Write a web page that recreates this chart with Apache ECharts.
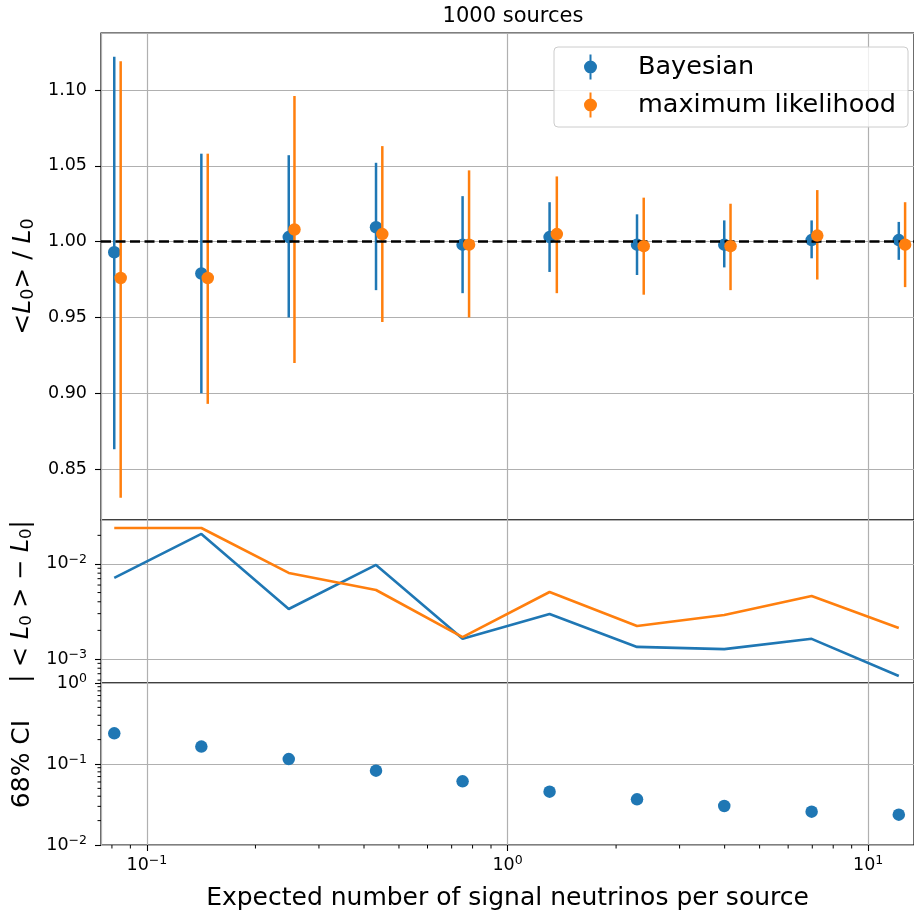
<!DOCTYPE html>
<html>
<head>
<meta charset="utf-8">
<script src="https://cdn.jsdelivr.net/npm/echarts@6/dist/echarts.min.js"></script>
<style>
  html, body { margin: 0; padding: 0; background: #fff; }
  #chart { width: 914px; height: 913px; }
</style>
</head>
<body>
<div id="chart"></div>
<script>
// expected number of signal neutrinos per source (ML points are drawn slightly to the right)
var xBayes = [0.0812, 0.1416, 0.2474, 0.4319, 0.7506, 1.308, 2.286, 3.990, 6.970, 12.16];
var xML = [0.0846, 0.1475, 0.2566, 0.4496, 0.7823, 1.370, 2.386, 4.153, 7.226, 12.66];

// <L0>/L0 with error bars
var bayesMean = [0.993, 0.979, 1.003, 1.0095, 0.998, 1.003, 0.998, 0.998, 1.001, 1.001];
var bayesLow = [0.863, 0.900, 0.950, 0.968, 0.966, 0.980, 0.978, 0.983, 0.989, 0.988];
var bayesHigh = [1.122, 1.058, 1.057, 1.052, 1.030, 1.026, 1.018, 1.014, 1.014, 1.013];
var mlMean = [0.976, 0.976, 1.008, 1.005, 0.998, 1.005, 0.997, 0.997, 1.004, 0.998];
var mlLow = [0.831, 0.893, 0.920, 0.947, 0.950, 0.966, 0.965, 0.968, 0.975, 0.970];
var mlHigh = [1.119, 1.058, 1.096, 1.063, 1.047, 1.043, 1.029, 1.025, 1.034, 1.026];

// |<L0> - L0|
var bayesBias = [0.00713, 0.0207, 0.00336, 0.00977, 0.00163, 0.00298, 0.00134, 0.00127, 0.00163, 0.000662];
var mlBias = [0.0239, 0.0239, 0.00804, 0.00532, 0.0017, 0.00507, 0.00222, 0.0029, 0.0046, 0.00212];

// 68% CI width
var ciWidth = [0.239, 0.164, 0.115, 0.0827, 0.0611, 0.0455, 0.0366, 0.0303, 0.0258, 0.0237];

// minor tick positions
var xMinor = [0.08, 0.09, 0.2, 0.3, 0.4, 0.5, 0.6, 0.7, 0.8, 0.9, 2, 3, 4, 5, 6, 7, 8, 9];
var biasMinor = [0.0006, 0.0007, 0.0008, 0.0009, 0.002, 0.003, 0.004, 0.005, 0.006, 0.007, 0.008, 0.009, 0.02];
var ciMinor = [0.02, 0.03, 0.04, 0.05, 0.06, 0.07, 0.08, 0.09, 0.2, 0.3, 0.4, 0.5, 0.6, 0.7, 0.8, 0.9];

var xMin = 0.07461, xMax = 13.40;
var blue = '#1f77b4', orange = '#ff7f0e';
var font = 'DejaVu Sans';

function zip(a, b, c) {
  return a.map(function (v, i) { return c ? [v, b[i], c[i]] : [v, b[i]]; });
}

// 10^n label with a raised exponent
function powLabel(v) {
  var e = Math.round(Math.log10(v));
  return '10{e|' + (e < 0 ? '\u2212' + (-e) : e) + '}';
}
var powRich = { e: { fontSize: 12.5, fontFamily: font, color: '#000', padding: [0, 0, 9, 0] } };

function errRender(params, api) {
  var a = api.coord([api.value(0), api.value(1)]);
  var b = api.coord([api.value(0), api.value(2)]);
  return {
    type: 'line',
    shape: { x1: a[0], y1: a[1], x2: b[0], y2: b[1] },
    style: { stroke: api.visual('color'), lineWidth: 2.5 }
  };
}
function xMinorRender(params, api) {
  var cs = params.coordSys;
  var p = api.coord([api.value(0), 0.1]);
  var y = cs.y + cs.height;
  return { type: 'line', shape: { x1: p[0], y1: y, x2: p[0], y2: y + 3.5 }, style: { stroke: '#000', lineWidth: 1 } };
}
function yMinorRender(params, api) {
  var cs = params.coordSys;
  var p = api.coord([1, api.value(1)]);
  return { type: 'line', shape: { x1: cs.x, y1: p[1], x2: cs.x - 3.5, y2: p[1] }, style: { stroke: '#000', lineWidth: 1 } };
}

var gridBase = { left: 101, width: 815, show: true, borderColor: '#000', borderWidth: 1.2 };
var splitLine = { show: true, lineStyle: { color: '#b0b0b0', width: 1.2 } };
var tickStyle = { show: true, length: 6, lineStyle: { color: '#000', width: 1.1 } };
var labelStyle = { color: '#000', fontSize: 17.5, fontFamily: font };

function xAxisFor(idx, showLabels) {
  var ax = {
    type: 'log', logBase: 10, gridIndex: idx, min: xMin, max: xMax,
    axisLine: { show: false },
    axisTick: showLabels ? tickStyle : { show: false },
    axisLabel: showLabels ? Object.assign({ margin: 9, showMinLabel: false, showMaxLabel: false, formatter: powLabel, rich: powRich }, labelStyle) : { show: false },
    splitLine: splitLine
  };
  if (showLabels) {
    ax.name = 'Expected number of signal neutrinos per source';
    ax.nameLocation = 'middle';
    ax.nameGap = 41;
    ax.nameTextStyle = { fontSize: 25, fontFamily: font, color: '#000', verticalAlign: 'top' };
  }
  return ax;
}

var legendIcon = 'path://M5.5,0H7.5V25H5.5Z M0,12.5A6.5,6.5 0 1,1 13,12.5A6.5,6.5 0 1,1 0,12.5Z';

var chart = echarts.init(document.getElementById('chart'));
chart.setOption({
  animation: false,
  backgroundColor: '#fff',
  title: {
    text: '1000 sources', left: 508, top: 1, textAlign: 'center',
    textStyle: { fontSize: 21, fontWeight: 'normal', color: '#000', fontFamily: font }
  },
  legend: {
    left: 554, top: 47, orient: 'vertical',
    itemWidth: 13, itemHeight: 25, itemGap: 12,
    padding: [7, 12, 9, 30],
    borderColor: '#cccccc', borderWidth: 1, borderRadius: 4,
    backgroundColor: 'rgba(255,255,255,0.8)',
    data: [{ name: 'Bayesian', icon: legendIcon }, { name: 'maximum likelihood', icon: legendIcon }],
    formatter: function (n) { return '{t|' + n + '}'; },
    textStyle: { rich: { t: { fontSize: 25.5, lineHeight: 30, fontFamily: font, color: '#000', padding: [0, 0, 0, 36] } } }
  },
  grid: [
    Object.assign({ top: 33, height: 487 }, gridBase),
    Object.assign({ top: 520, height: 163 }, gridBase),
    Object.assign({ top: 683, height: 162 }, gridBase)
  ],
  xAxis: [xAxisFor(0, false), xAxisFor(1, false), xAxisFor(2, true)],
  yAxis: [
    {
      type: 'value', gridIndex: 0, min: 0.8164, max: 1.1376, splitNumber: 6,
      axisLine: { show: false }, axisTick: tickStyle, splitLine: splitLine,
      axisLabel: Object.assign({ margin: 14, showMinLabel: false, showMaxLabel: false, formatter: function (v) { return v.toFixed(2); } }, labelStyle),
      name: '<{i|L}{s|0}> / {i|L}{s|0}', nameLocation: 'middle', nameRotate: 90, nameGap: 60,
      nameTextStyle: {
        fontSize: 25, fontFamily: font, color: '#000',
        rich: { i: { fontSize: 25, fontStyle: 'italic', fontFamily: font }, s: { fontSize: 17.5, fontFamily: font, padding: [10, 0, 0, 0] } }
      }
    },
    {
      type: 'log', logBase: 10, gridIndex: 1, min: 0.000559, max: 0.0290,
      axisLine: { show: false }, axisTick: tickStyle, splitLine: splitLine,
      axisLabel: Object.assign({ margin: 14, showMinLabel: false, showMaxLabel: false, formatter: powLabel, rich: powRich }, labelStyle),
      name: '| < {i|L}{s|0} > \u2212 {i|L}{s|0}|', nameLocation: 'middle', nameRotate: 90, nameGap: 66,
      nameTextStyle: {
        fontSize: 24, fontFamily: font, color: '#000',
        rich: { i: { fontSize: 24, fontStyle: 'italic', fontFamily: font }, s: { fontSize: 16.5, fontFamily: font, padding: [10, 0, 0, 0] } }
      }
    },
    {
      type: 'log', logBase: 10, gridIndex: 2, min: 0.01, max: 1,
      axisLine: { show: false }, axisTick: tickStyle, splitLine: splitLine,
      axisLabel: Object.assign({ margin: 14, formatter: powLabel, rich: powRich }, labelStyle),
      name: '68% CI', nameLocation: 'middle', nameRotate: 90, nameGap: 65,
      nameTextStyle: { fontSize: 25, fontFamily: font, color: '#000' }
    }
  ],
  series: [
    {
      type: 'custom', name: 'Bayesian bars', xAxisIndex: 0, yAxisIndex: 0, z: 2,
      itemStyle: { color: blue }, renderItem: errRender,
      encode: { x: 0, y: [1, 2] },
      data: zip(xBayes, bayesLow, bayesHigh),
      markLine: {
        silent: true, symbol: 'none', label: { show: false },
        lineStyle: { color: '#000', type: [10, 4.5], width: 2.6 },
        data: [{ yAxis: 1 }]
      }
    },
    {
      type: 'scatter', name: 'Bayesian', xAxisIndex: 0, yAxisIndex: 0, z: 3,
      symbolSize: 12.5, itemStyle: { color: blue, opacity: 1 },
      data: zip(xBayes, bayesMean)
    },
    {
      type: 'custom', name: 'ML bars', xAxisIndex: 0, yAxisIndex: 0, z: 4,
      itemStyle: { color: orange }, renderItem: errRender,
      encode: { x: 0, y: [1, 2] },
      data: zip(xML, mlLow, mlHigh)
    },
    {
      type: 'scatter', name: 'maximum likelihood', xAxisIndex: 0, yAxisIndex: 0, z: 5,
      symbolSize: 12.5, itemStyle: { color: orange, opacity: 1 },
      data: zip(xML, mlMean)
    },
    {
      type: 'line', name: 'Bayesian bias', xAxisIndex: 1, yAxisIndex: 1,
      showSymbol: false, lineStyle: { color: blue, width: 2.6 }, itemStyle: { color: blue },
      data: zip(xBayes, bayesBias)
    },
    {
      type: 'line', name: 'ML bias', xAxisIndex: 1, yAxisIndex: 1,
      showSymbol: false, lineStyle: { color: orange, width: 2.6 }, itemStyle: { color: orange },
      data: zip(xBayes, mlBias)
    },
    {
      type: 'scatter', name: 'CI', xAxisIndex: 2, yAxisIndex: 2,
      symbolSize: 12.5, itemStyle: { color: blue, opacity: 1 },
      data: zip(xBayes, ciWidth)
    },
    {
      type: 'custom', name: 'x minor', xAxisIndex: 2, yAxisIndex: 2, silent: true,
      renderItem: xMinorRender, data: xMinor.map(function (v) { return [v]; })
    },
    {
      type: 'custom', name: 'bias minor', xAxisIndex: 1, yAxisIndex: 1, silent: true,
      renderItem: yMinorRender, data: biasMinor.map(function (v) { return [1, v]; }),
      encode: { x: 0, y: 1 }
    },
    {
      type: 'custom', name: 'ci minor', xAxisIndex: 2, yAxisIndex: 2, silent: true,
      renderItem: yMinorRender, data: ciMinor.map(function (v) { return [1, v]; }),
      encode: { x: 0, y: 1 }
    }
  ]
});
</script>
</body>
</html>
